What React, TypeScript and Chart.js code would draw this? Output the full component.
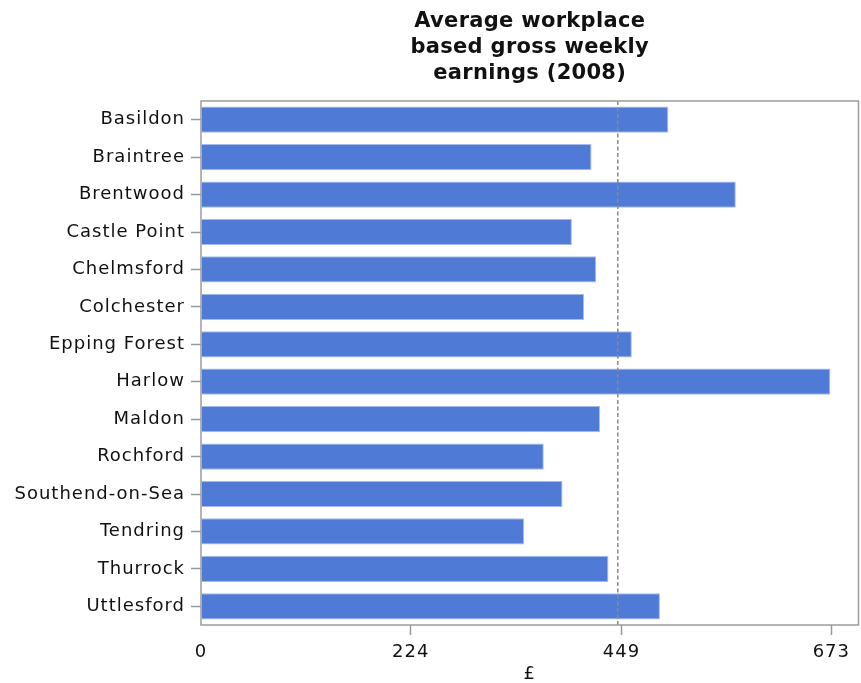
import React, { useEffect, useRef } from "react";
import { Chart, registerables } from "chart.js";

Chart.register(...registerables);

const categories = [
  "Basildon",
  "Braintree",
  "Brentwood",
  "Castle Point",
  "Chelmsford",
  "Colchester",
  "Epping Forest",
  "Harlow",
  "Maldon",
  "Rochford",
  "Southend-on-Sea",
  "Tendring",
  "Thurrock",
  "Uttlesford",
];
const earnings = [499, 417, 571, 396, 422, 409, 460, 672, 426, 366, 386, 345, 435, 490];
const xTicks = [0, 224, 449, 673];
const averageValue = 445;
const xMax = 702;
const titleLines = ["Average workplace", "based gross weekly", "earnings (2008)"];
const xAxisTitle = "£";

const FONT = "'DejaVu Sans', Verdana, sans-serif";

export default function App() {
  const ref = useRef<HTMLCanvasElement | null>(null);

  useEffect(() => {
    if (!ref.current) return;
    const spacing = {
      id: "letterSpacing",
      beforeLayout(chart: any) {
        (chart.ctx as any).letterSpacing = "1px";
      },
      beforeDraw(chart: any) {
        (chart.ctx as any).letterSpacing = "1px";
      },
    };
    const overlay = {
      id: "overlay",
      afterDatasetsDraw(chart: any) {
        const { ctx, chartArea, scales } = chart;
        ctx.save();
        const x = scales.x.getPixelForValue(averageValue);
        ctx.strokeStyle = "#8a8a8a";
        ctx.lineWidth = 1.5;
        ctx.setLineDash([4, 2.5]);
        ctx.beginPath();
        ctx.moveTo(x, chartArea.top);
        ctx.lineTo(x, chartArea.bottom);
        ctx.stroke();
        ctx.setLineDash([]);
        ctx.strokeStyle = "#9c9c9c";
        ctx.lineWidth = 1.5;
        ctx.strokeRect(
          chartArea.left,
          chartArea.top,
          chartArea.right - chartArea.left,
          chartArea.bottom - chartArea.top
        );
        ctx.restore();
      },
      afterDraw(chart: any) {
        const { ctx, chartArea } = chart;
        ctx.save();
        (ctx as any).letterSpacing = "0.3px";
        ctx.fillStyle = "#111";
        ctx.font = `bold 21px ${FONT}`;
        ctx.textAlign = "center";
        ctx.textBaseline = "middle";
        const cx = (chartArea.left + chartArea.right) / 2;
        titleLines.forEach((line, i) => {
          ctx.fillText(line, cx, 22 + i * 26);
        });
        ctx.restore();
      },
    };

    const chart = new Chart(ref.current, {
      type: "bar",
      data: {
        labels: categories,
        datasets: [
          {
            data: earnings,
            backgroundColor: "#4f7bd6",
            borderColor: "#a7bcec",
            borderWidth: 1,
            barPercentage: 0.7,
            categoryPercentage: 1,
          },
        ],
      },
      options: {
        indexAxis: "y",
        animation: false,
        responsive: true,
        maintainAspectRatio: false,
        layout: { padding: { top: 101, left: 0, right: 2.5, bottom: 0 } },
        plugins: {
          legend: { display: false },
          tooltip: { enabled: false },
          title: { display: false },
        },
        scales: {
          x: {
            min: 0,
            max: xMax,
            afterBuildTicks(axis: any) {
              axis.ticks = xTicks.map((v) => ({ value: v }));
            },
            grid: {
              drawOnChartArea: false,
              drawTicks: true,
              tickLength: 10,
              tickColor: (c: any) => (c.index === 0 ? "rgba(0,0,0,0)" : "#999"),
              tickWidth: 1.5,
            },
            border: { display: false },
            ticks: {
              color: "#111",
              font: { family: FONT, size: 18, lineHeight: 1 },
              padding: 8,
              maxRotation: 0,
              autoSkip: false,
              callback: (v: any) => String(v),
            },
            title: {
              display: true,
              text: xAxisTitle,
              color: "#111",
              font: { family: FONT, size: 18, lineHeight: 1 },
              padding: { top: -4, bottom: 0 },
            },
          },
          y: {
            afterFit(scale: any) {
              scale.width = 201;
            },
            grid: {
              offset: false,
              drawOnChartArea: false,
              drawTicks: true,
              tickLength: 10,
              tickColor: "#999",
              tickWidth: 1.5,
            },
            border: { display: false },
            ticks: {
              color: "#111",
              font: { family: FONT, size: 18, lineHeight: 1.2 },
              padding: 6,
              autoSkip: false,
            },
          },
        },
      },
      plugins: [spacing, overlay],
    });
    return () => chart.destroy();
  }, []);

  return (
    <div
      style={{
        position: "absolute",
        left: 0,
        top: 0,
        width: 861,
        height: 683,
        background: "#fff",
      }}
    >
      <canvas ref={ref} />
    </div>
  );
}
